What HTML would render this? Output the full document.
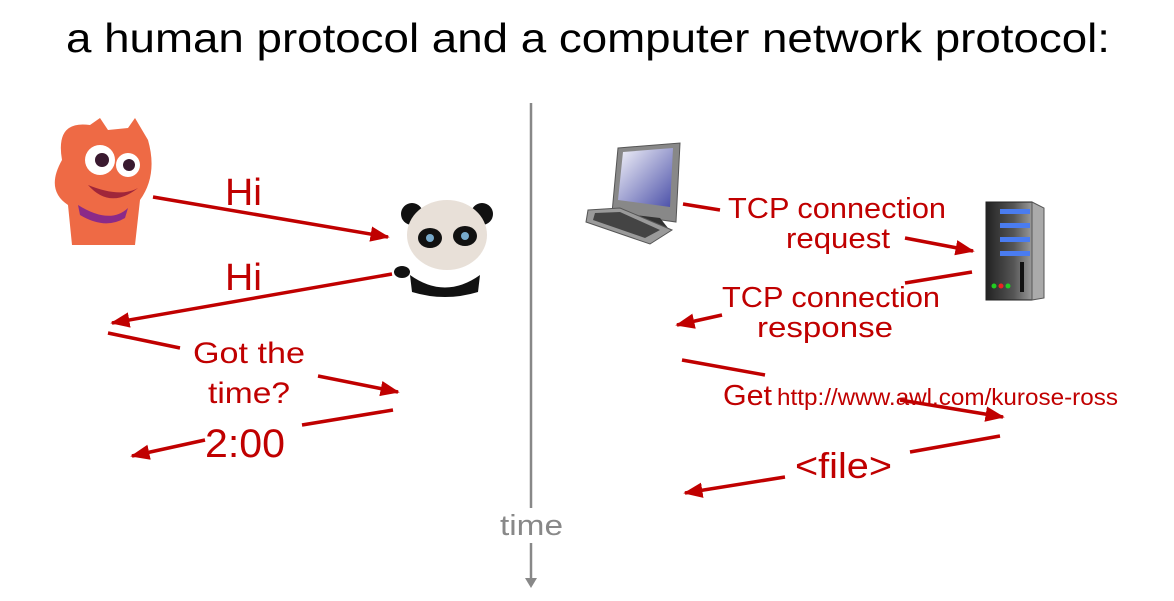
<!DOCTYPE html>
<html><head><meta charset="utf-8"><style>
html,body{margin:0;padding:0;background:#fff;}
svg{display:block;}
text{font-family:"Liberation Sans",sans-serif;}
</style></head><body>
<svg width="1174" height="601" viewBox="0 0 1174 601" xmlns="http://www.w3.org/2000/svg">
<defs>
<marker id="ar" markerWidth="6" markerHeight="6" refX="5" refY="3" orient="auto" markerUnits="strokeWidth"><path d="M0,0.8 L5.5,3 L0,5.2 Z" fill="#c00000"/></marker>
<linearGradient id="scr" x1="0" y1="0" x2="1" y2="1"><stop offset="0" stop-color="#f4f4fa"/><stop offset="1" stop-color="#4a4fa8"/></linearGradient>
<linearGradient id="srv" x1="0" y1="0" x2="1" y2="0"><stop offset="0" stop-color="#222"/><stop offset="0.6" stop-color="#555"/><stop offset="1" stop-color="#999"/></linearGradient>
</defs>
<text x="66" y="52" font-size="41" fill="#000" textLength="1044" lengthAdjust="spacingAndGlyphs">a human protocol and a computer network protocol:</text>

<line x1="531" y1="103" x2="531" y2="508" stroke="#888" stroke-width="2.5"/>
<line x1="531" y1="543" x2="531" y2="580" stroke="#888" stroke-width="2.5"/>
<path d="M525,578 L537,578 L531,588 Z" fill="#888"/>
<text x="500" y="535" font-size="29" fill="#888" textLength="63" lengthAdjust="spacingAndGlyphs">time</text>

<g>
<path d="M62,160 Q55,120 90,125 L100,118 L108,130 L128,128 L135,118 L148,140 Q158,175 140,200 L135,245 L72,245 L68,205 Q45,190 62,160Z" fill="#ee6a45"/>
<circle cx="100" cy="160" r="15" fill="#fff"/><circle cx="102" cy="160" r="7" fill="#3a1a30"/>
<circle cx="128" cy="165" r="12" fill="#fff"/><circle cx="129" cy="165" r="6" fill="#3a1a30"/>
<path d="M88,185 Q110,210 138,188 Q120,198 88,185Z" fill="#a0263a"/>
<path d="M78,205 Q110,225 128,208 L125,218 Q105,230 80,215Z" fill="#8b2a88"/>
</g>
<g>
<ellipse cx="412" cy="214" rx="11" ry="11" fill="#111"/><ellipse cx="482" cy="214" rx="11" ry="11" fill="#111"/>
<ellipse cx="447" cy="235" rx="40" ry="35" fill="#e8e0d8"/>
<ellipse cx="430" cy="238" rx="12" ry="10" fill="#111"/><ellipse cx="465" cy="236" rx="12" ry="10" fill="#111"/>
<circle cx="430" cy="238" r="4" fill="#7ac"/><circle cx="465" cy="236" r="4" fill="#7ac"/>
<path d="M410,275 Q445,300 480,275 L478,292 Q445,302 412,292Z" fill="#111"/>
<ellipse cx="402" cy="272" rx="8" ry="6" fill="#111"/>
</g>

<g stroke="#c00000" stroke-width="3.5" fill="none">
<line x1="153" y1="197" x2="388" y2="237" marker-end="url(#ar)"/>
<line x1="392" y1="274" x2="112" y2="323" marker-end="url(#ar)"/>
<line x1="108" y1="333" x2="180" y2="348"/>
<line x1="318" y1="376" x2="398" y2="392" marker-end="url(#ar)"/>
<line x1="393" y1="410" x2="302" y2="425"/>
<line x1="205" y1="440" x2="132" y2="456" marker-end="url(#ar)"/>
<line x1="683" y1="204" x2="720" y2="210"/>
<line x1="905" y1="238" x2="973" y2="251" marker-end="url(#ar)"/>
<line x1="972" y1="272" x2="905" y2="283"/>
<line x1="722" y1="315" x2="677" y2="325" marker-end="url(#ar)"/>
<line x1="682" y1="360" x2="765" y2="375"/>
<line x1="900" y1="400" x2="1003" y2="417" marker-end="url(#ar)"/>
<line x1="1000" y1="436" x2="910" y2="452"/>
<line x1="785" y1="477" x2="685" y2="493" marker-end="url(#ar)"/>
</g>

<g fill="#c00000" lengthAdjust="spacingAndGlyphs">
<text x="225" y="205" font-size="38" textLength="37" lengthAdjust="spacingAndGlyphs">Hi</text>
<text x="225" y="290" font-size="38" textLength="37" lengthAdjust="spacingAndGlyphs">Hi</text>
<text x="193" y="363" font-size="30" textLength="112" lengthAdjust="spacingAndGlyphs">Got the</text>
<text x="208" y="403" font-size="30" textLength="82" lengthAdjust="spacingAndGlyphs">time?</text>
<text x="205" y="457" font-size="40" textLength="80" lengthAdjust="spacingAndGlyphs">2:00</text>
<text x="728" y="218" font-size="29" textLength="218" lengthAdjust="spacingAndGlyphs">TCP connection</text>
<text x="786" y="248" font-size="29" textLength="104" lengthAdjust="spacingAndGlyphs">request</text>
<text x="722" y="307" font-size="29" textLength="218" lengthAdjust="spacingAndGlyphs">TCP connection</text>
<text x="757" y="337" font-size="29" textLength="136" lengthAdjust="spacingAndGlyphs">response</text>
<text x="723" y="405" font-size="29" textLength="49" lengthAdjust="spacingAndGlyphs">Get</text>
<text x="777" y="405" font-size="23" textLength="341" lengthAdjust="spacingAndGlyphs">http://www.awl.com/kurose-ross</text>
<text x="795" y="478" font-size="36" textLength="97" lengthAdjust="spacingAndGlyphs">&lt;file&gt;</text>
</g>

<g>
<path d="M618,148 L680,143 L676,222 L612,213Z" fill="#888" stroke="#555"/>
<path d="M623,152 L673,148 L670,207 L618,200Z" fill="url(#scr)"/>
<path d="M635,215 L660,218 L668,228 L630,224Z" fill="#333"/>
<path d="M588,210 L620,208 L672,230 L650,244 L586,222Z" fill="#9a9a9a" stroke="#555"/>
<path d="M595,213 L620,212 L660,230 L645,238 L593,220Z" fill="#444"/>
</g>
<g>
<rect x="986" y="202" width="46" height="98" fill="url(#srv)" stroke="#222"/>
<path d="M1032,202 L1044,208 L1044,298 L1032,300Z" fill="#aaa" stroke="#555"/>
<rect x="1000" y="209" width="30" height="5" fill="#4a7cf0"/>
<rect x="1000" y="223" width="30" height="5" fill="#4a7cf0"/>
<rect x="1000" y="237" width="30" height="5" fill="#4a7cf0"/>
<rect x="1000" y="251" width="30" height="5" fill="#4a7cf0"/>
<rect x="1020" y="262" width="4" height="30" fill="#111"/>
<circle cx="994" cy="286" r="2.5" fill="#2c2"/><circle cx="1001" cy="286" r="2.5" fill="#e22"/><circle cx="1008" cy="286" r="2.5" fill="#2c2"/>
</g>
</svg>
</body></html>
